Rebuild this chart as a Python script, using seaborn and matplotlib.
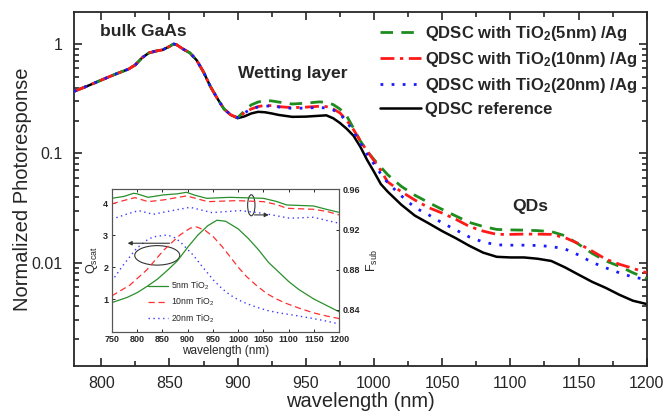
import numpy as np
import pandas as pd
import matplotlib
matplotlib.use("Agg")
import matplotlib.pyplot as plt
from matplotlib.patches import Ellipse
from matplotlib.ticker import FixedLocator, FuncFormatter, LogLocator, NullFormatter, MultipleLocator
import seaborn as sns

# ---------------- data: main plot ----------------
wl_main = [780, 790, 800, 810, 820, 825, 830, 835, 840, 845, 850, 853, 855, 860, 865, 870,
           875, 880, 885, 890, 895, 900, 905, 910, 915, 920, 925, 930, 940, 950, 960, 965,
           970, 975, 980, 985, 990, 995, 1000, 1005, 1010, 1020, 1030, 1040, 1050, 1060,
           1070, 1080, 1090, 1100, 1110, 1120, 1130, 1140, 1150, 1160, 1170, 1180, 1190, 1200]

common = [0.369, 0.414, 0.468, 0.528, 0.59, 0.645, 0.75, 0.83, 0.862, 0.885, 0.95, 1.0, 0.99,
          0.90, 0.83, 0.71, 0.555, 0.41, 0.32, 0.255, 0.225]

ref_vals = common + [0.21, 0.218, 0.232, 0.24, 0.238, 0.232, 0.225, 0.216, 0.217, 0.221, 0.223,
                     0.21, 0.19, 0.168, 0.145, 0.115, 0.087, 0.068, 0.0525, 0.0448, 0.034, 0.027,
                     0.023, 0.0195, 0.0168, 0.0143, 0.0124, 0.01135, 0.0112, 0.0112, 0.0109,
                     0.0104, 0.0091, 0.0078, 0.0067, 0.0059, 0.0051, 0.0045, 0.0042]

tio2_5_vals = common + [0.212, 0.245, 0.278, 0.295, 0.305, 0.302, 0.295, 0.283, 0.288, 0.296,
                        0.293, 0.28, 0.255, 0.22, 0.17, 0.13, 0.105, 0.088, 0.075, 0.064, 0.050,
                        0.0415, 0.0356, 0.0308, 0.0268, 0.0234, 0.0215, 0.0202, 0.0200, 0.0199,
                        0.0197, 0.0193, 0.0177, 0.0148, 0.0122, 0.0104, 0.0093, 0.0081, 0.0072]

tio2_10_vals = common + [0.212, 0.235, 0.255, 0.268, 0.275, 0.273, 0.268, 0.262, 0.265, 0.27,
                         0.268, 0.255, 0.235, 0.2, 0.165, 0.13, 0.105, 0.086, 0.07, 0.055,
                         0.0447, 0.0375, 0.032, 0.0285, 0.025, 0.0215, 0.0195, 0.0182, 0.0182,
                         0.0183, 0.0183, 0.0182, 0.0170, 0.0150, 0.0128, 0.0108, 0.0097, 0.0089,
                         0.0081]

tio2_20_vals = common + [0.212, 0.235, 0.255, 0.266, 0.272, 0.27, 0.266, 0.258, 0.26, 0.263,
                         0.26, 0.25, 0.23, 0.195, 0.158, 0.125, 0.098, 0.08, 0.065, 0.054, 0.041,
                         0.032, 0.0275, 0.0232, 0.020, 0.0172, 0.0155, 0.0146, 0.0145, 0.0145,
                         0.0144, 0.0141, 0.0134, 0.0118, 0.0101, 0.0090, 0.0081, 0.0074, 0.00705]

main_labels = ["QDSC with TiO$_2$(5nm) /Ag", "QDSC with TiO$_2$(10nm) /Ag",
               "QDSC with TiO$_2$(20nm) /Ag", "QDSC reference"]

# ---------------- data: inset ----------------
q5_wl = [750, 780, 800, 820, 840, 860, 880, 900, 920, 940, 958, 975, 1000, 1020, 1040, 1060,
         1080, 1100, 1120, 1150, 1175, 1200]
q5_val = [0.89, 1.05, 1.2, 1.40, 1.62, 1.90, 2.2, 2.62, 3.0, 3.3, 3.47, 3.44, 3.2, 2.9, 2.55,
          2.15, 1.85, 1.55, 1.3, 1.0, 0.8, 0.60]
q10_wl = [750, 786, 819, 852, 885, 905, 918, 935, 951, 968, 984, 1000, 1017, 1036, 1056, 1076,
          1096, 1120, 1149, 1175, 1200]
q10_val = [1.10, 1.44, 1.91, 2.52, 3.01, 3.22, 3.26, 3.15, 2.95, 2.65, 2.33, 2.0, 1.70, 1.43,
           1.18, 1.0, 0.86, 0.72, 0.57, 0.47, 0.39]
q20_wl = [750, 773, 799, 820, 832, 860, 875, 885, 911, 930, 951, 968, 984, 1000, 1017, 1036,
          1056, 1080, 1109, 1149, 1175, 1200]
q20_val = [1.56, 2.07, 2.59, 2.85, 2.95, 3.01, 2.92, 2.80, 2.38, 2.0, 1.60, 1.33, 1.13, 0.98,
           0.86, 0.75, 0.65, 0.57, 0.50, 0.39, 0.31, 0.22]

f5_wl = [750, 775, 793, 800, 822, 852, 880, 898, 915, 938, 984, 1050, 1075, 1096, 1149, 1175, 1200]
f5_val = [0.951, 0.953, 0.956, 0.9555, 0.952, 0.9544, 0.9555, 0.957, 0.954, 0.951, 0.952, 0.951,
          0.948, 0.9444, 0.9434, 0.940, 0.937]
f10_wl = [750, 775, 796, 822, 852, 898, 940, 997, 1050, 1075, 1096, 1149, 1175, 1200]
f10_val = [0.9454, 0.949, 0.9517, 0.9477, 0.9494, 0.9534, 0.9477, 0.9487, 0.9477, 0.945, 0.9411,
           0.9401, 0.938, 0.9345]
f20_wl = [750, 778, 803, 832, 859, 905, 948, 1004, 1050, 1102, 1149, 1175, 1200]
f20_val = [0.9302, 0.935, 0.9388, 0.9351, 0.9378, 0.9421, 0.9368, 0.9388, 0.9361, 0.9312,
           0.9322, 0.929, 0.9262]

inset_labels = ["5nm TiO$_2$", "10nm TiO$_2$", "20nm TiO$_2$"]
inset_xticks = [750, 800, 850, 900, 950, 1000, 1050, 1100, 1150, 1200]
inset_qticks = [1, 2, 3, 4]
inset_fticks = [0.84, 0.88, 0.92, 0.96]
main_xticks = [800, 850, 900, 950, 1000, 1050, 1100, 1150, 1200]

# ---------------- style ----------------
sns.set_theme(style="ticks")
plt.rcParams["font.family"] = ["Liberation Sans", "DejaVu Sans"]
plt.rcParams["mathtext.default"] = "regular"
plt.rcParams["axes.linewidth"] = 1.3

GREEN = "#1e8c1e"
RED = "#ff1a1a"
BLUE = "#1a1aff"

fig = plt.figure(figsize=(6.67, 4.13), dpi=100)
ax = fig.add_axes([0.1109, 0.1138, 0.8587, 0.8564])

df_main = pd.DataFrame({"wl": wl_main, "ref": ref_vals, "t5": tio2_5_vals,
                        "t10": tio2_10_vals, "t20": tio2_20_vals})

# reference drawn first so the coloured curves lie on top of it
sns.lineplot(data=df_main, x="wl", y="ref", ax=ax, color="black", lw=1.8,
             linestyle="-", label=main_labels[3], zorder=2)
sns.lineplot(data=df_main, x="wl", y="t5", ax=ax, color=GREEN, lw=2.0,
             linestyle=(0, (4.5, 3)), label=main_labels[0], zorder=3)
sns.lineplot(data=df_main, x="wl", y="t10", ax=ax, color=RED, lw=2.0,
             linestyle=(0, (5, 2, 1.2, 2)), label=main_labels[1], zorder=3)
sns.lineplot(data=df_main, x="wl", y="t20", ax=ax, color=BLUE, lw=2.0,
             linestyle=(0, (1, 3)), label=main_labels[2], zorder=3)

ax.set_yscale("log")
ax.set_xlim(780, 1200)
ax.set_ylim(0.00114, 1.95)
ax.xaxis.set_major_locator(FixedLocator(main_xticks))
ax.xaxis.set_minor_locator(MultipleLocator(25))
ax.yaxis.set_major_locator(FixedLocator([0.01, 0.1, 1]))
ax.yaxis.set_major_formatter(FuncFormatter(lambda v, p: {0.01: "0.01", 0.1: "0.1", 1: "1"}.get(round(v, 4), "")))
ax.yaxis.set_minor_locator(LogLocator(base=10, subs=np.arange(2, 10)))
ax.yaxis.set_minor_formatter(NullFormatter())
ax.tick_params(which="both", direction="in", top=True, right=True, width=1.2)
ax.tick_params(which="major", length=6, labelsize=11.5)
ax.tick_params(axis="x", which="major", pad=7)
ax.tick_params(axis="y", which="major", pad=8)
ax.tick_params(which="minor", length=3.5)
ax.set_xlabel("wavelength (nm)", fontsize=14.5, labelpad=1)
ax.set_ylabel("Normalized Photoresponse", fontsize=14.5, labelpad=0)

handles, labels = ax.get_legend_handles_labels()
order = [labels.index(l) for l in main_labels]
ax.legend([handles[i] for i in order], [labels[i] for i in order],
          loc="upper left", bbox_to_anchor=(0.522, 0.985), frameon=False,
          prop={"weight": "bold", "size": 12}, handlelength=2.5,
          handletextpad=0.25, labelspacing=0.42, borderaxespad=0)

ax.text(799, 1.31, "bulk GaAs", fontsize=12.6, fontweight="bold", va="center", ha="left")
ax.text(900, 0.537, "Wetting layer", fontsize=12.6, fontweight="bold", va="center", ha="left")
ax.text(1114.7, 0.0325, "QDs", fontsize=12.6, fontweight="bold", va="center", ha="center")

# ---------------- inset ----------------
axi = fig.add_axes([0.1675, 0.1969, 0.3412, 0.3448])
axi.set_facecolor("white")
sns.lineplot(x=q5_wl, y=q5_val, ax=axi, color="#2a8f2a", lw=0.9, linestyle="-", label=inset_labels[0])
sns.lineplot(x=q10_wl, y=q10_val, ax=axi, color="#ff3030", lw=0.9, linestyle=(0, (5, 3)), label=inset_labels[1])
sns.lineplot(x=q20_wl, y=q20_val, ax=axi, color="#3a3aff", lw=1.0, linestyle=(0, (1, 2.5)), label=inset_labels[2])
axi.set_xlim(750, 1200)
axi.set_ylim(-0.02, 4.44)
axi.xaxis.set_major_locator(FixedLocator(inset_xticks))
axi.yaxis.set_major_locator(FixedLocator(inset_qticks))

axf = axi.twinx()
sns.lineplot(x=f5_wl, y=f5_val, ax=axf, color="#2a8f2a", lw=0.9, linestyle="-", legend=False)
sns.lineplot(x=f10_wl, y=f10_val, ax=axf, color="#ff3030", lw=0.9, linestyle=(0, (5, 3)), legend=False)
sns.lineplot(x=f20_wl, y=f20_val, ax=axf, color="#3a3aff", lw=1.0, linestyle=(0, (1, 2.5)), legend=False)
axf.set_ylim(0.8184, 0.96)
axf.yaxis.set_major_locator(FixedLocator(inset_fticks))
axf.yaxis.set_major_formatter(FuncFormatter(lambda v, p: f"{v:.2f}"))

for a in (axi, axf):
    for s in a.spines.values():
        s.set_linewidth(0.8)
        s.set_color("#555555")
    a.tick_params(which="both", direction="in", length=2.5, width=0.7, labelsize=6.5, pad=2.5)
    for lab in a.get_xticklabels() + a.get_yticklabels():
        lab.set_fontweight("bold")
axi.tick_params(top=True)
axi.set_xlabel("wavelength (nm)", fontsize=8.5, labelpad=0.5)
axi.set_ylabel("Q$_{scat}$", fontsize=9, labelpad=2)
axf.set_ylabel("F$_{sub}$", fontsize=9, labelpad=3)

axi.legend(loc="lower left", bbox_to_anchor=(0.145, 0.025), frameon=False, fontsize=6.3,
           handlelength=2.3, handletextpad=0.35, labelspacing=0.42, borderaxespad=0)

# annotations (ellipses and arrows)
axi.add_patch(Ellipse((840, 2.37), 89, 0.61, fill=False, lw=0.8, ec="#333333"))
axi.annotate("", xy=(776, 2.75), xytext=(870, 2.75),
             arrowprops=dict(arrowstyle="-|>", lw=0.8, color="#333333", mutation_scale=6))
axf.add_patch(Ellipse((1026, 0.9441), 14.5, 0.0209, fill=False, lw=0.8, ec="#333333"))
axf.annotate("", xy=(1066, 0.9345), xytext=(1026.7, 0.9345),
             arrowprops=dict(arrowstyle="-|>", lw=0.8, color="#333333", mutation_scale=6))

fig.savefig("out.png", dpi=100)
